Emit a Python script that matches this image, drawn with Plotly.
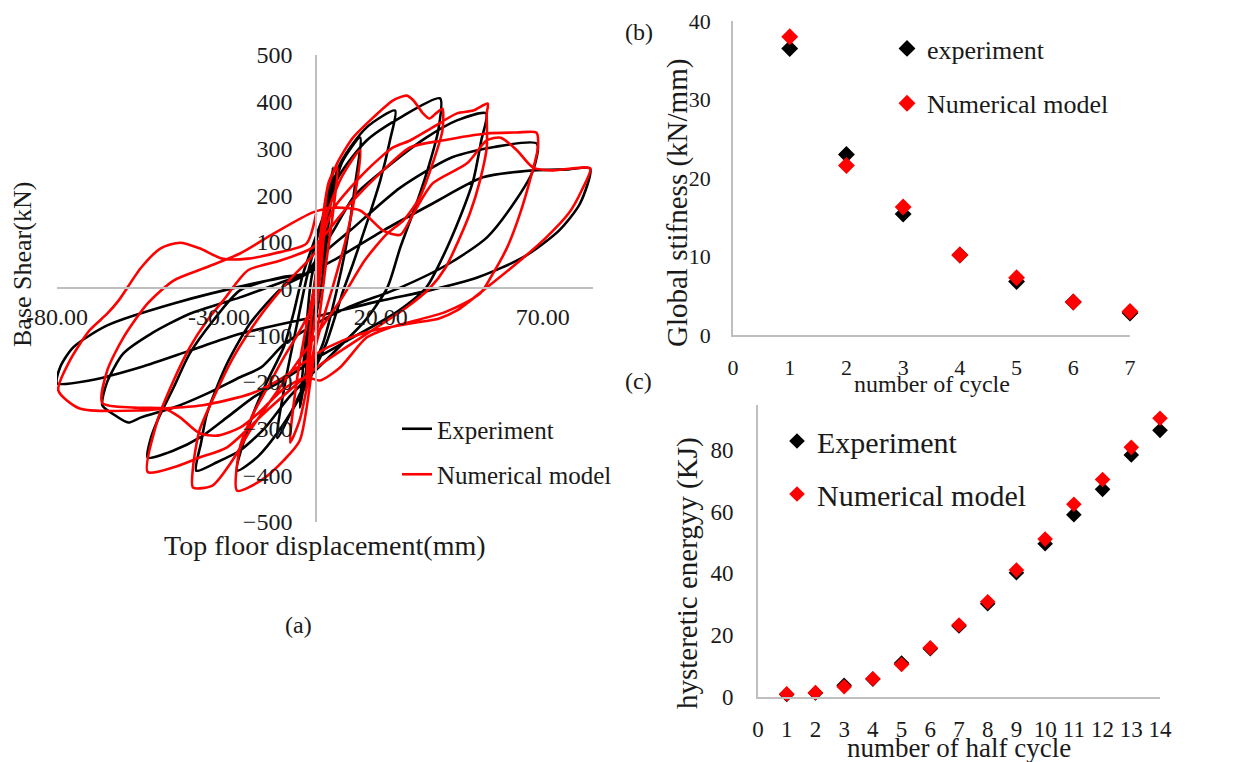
import plotly.graph_objects as go

W, H = 1249, 762

# ---------------- Panel (a): hysteresis loops (displacement mm, base shear kN) ----------------
exp_disp = [0, 1.5, 3.4, 2.5, 0.5, -1.5, -3.2, -2.2, -0.5,
            2.5, 5.2, 4, 1.5, -2, -5, -3.5, -1.5,
            3.5, 8, 13.6, 12, 9.5, 6.5, 2, -6, -12, -9.5, -6, -3,
            0, 7.4, 15.6, 24.4, 22.8, 19.8, 15.6, 11.4, 8.4, 3, -4, -11, -18, -24.4, -19.4, -15, -10, -7, -4,
            2, 7, 15.6, 26, 38.3, 37.7, 35, 31, 26, 22, 15, 5, -8, -16, -23.5, -30.6, -37, -35.5, -33.7, -27.5, -20.4, -10, -3,
            5, 12, 20.7, 34, 43.5, 52.5, 51, 48.5, 44.4, 39, 34, 25, 10, 0, -10, -19.4, -27.5, -35.8, -44, -52, -51, -49, -44, -39, -31.8, -23.5, -10, -3,
            3, 10.5, 26, 42, 55, 68.2, 67, 61, 52.7, 41, 26, 10, 0, -10, -17, -23.5, -33.7, -44, -54, -58, -62, -66, -64.5, -59.5, -51, -39, -23.5, -10, -3,
            5.3, 20.7, 36, 51.5, 67, 78, 84.6, 81.5, 75, 64, 50, 35, 20, 0, -23.5, -39, -54, -70, -80, -79, -75, -64.5, -44, -19, -3]
exp_shear = [0, 80, 173, 90, 0, -90, -170, -80, 10,
             150, 259, 150, 0, -130, -255, -130, 20,
             160, 270, 323, 220, 100, 0, -120, -240, -320, -200, -80, 20,
             100, 267, 345, 381, 317, 231, 139, 53, -4, -120, -220, -300, -360, -390, -268, -197, -126, -54, 32,
             150, 240, 317, 366, 407, 338, 267, 182, 88, 2, -70, -140, -230, -300, -347, -372, -390, -330, -268, -161, -75, 5, 32,
             120, 200, 253, 323, 360, 375, 317, 231, 152, 66, 2, -50, -110, -150, -195, -233, -276, -319, -347, -362, -320, -283, -212, -139, -69, -4, 25, 32,
             80, 124, 216, 281, 303, 310, 253, 182, 109, 53, 2, -40, -75, -120, -169, -190, -225, -255, -276, -287, -272, -250, -200, -139, -97, -54, -19, 15, 32,
             60, 124, 182, 238, 253, 255, 257, 182, 124, 67, 24, -4, -26, -60, -97, -133, -168, -197, -203, -168, -126, -79, -32, 11, 32]

num_disp = [0, 1.5, 3, 2, 0.5, -1.5, -3, -2, -0.5,
            2, 4, 6.5, 5, 3, 1, -2, -5, -8, -6, -3, 0,
            3, 8, 13.6, 12, 9, 5, 0, -5, -10, -17, -24.4, -23.5, -19.4, -15, -10, -5, 0,
            2, 3.4, 6.5, 11.4, 17.6, 23.8, 28, 30, 33, 35, 37, 39, 39, 36, 32, 27, 22, 15, 8, 0, -10, -20, -26, -32, -38,
            -38, -36, -30.6, -25.6, -20.4, -16, -8, 0,
            5.3, 15.6, 23.8, 29, 36, 43.5, 48.5, 53, 52.7, 52.7, 50.6, 47.5, 44, 40, 35, 28, 15, 0, -15, -27.5, -36, -44, -52,
            -49, -44, -39, -33.7, -28.7, -21, -11, -1,
            10.5, 20.7, 29, 39, 52.7, 62, 68, 68.5, 66, 63, 59, 54.6, 50.6, 40, 23, 15.6, 7.4, 1.2, -3, -10, -18, -23.5, -30.6, -36, -42, -47, -56, -66,
            -64.5, -59.5, -52, -44, -34, -23.5, -13, -1,
            5.3, 13.6, 20.7, 26, 30, 36, 46.6, 52.7, 57, 62, 67, 73, 84.6, 82, 78, 71, 63, 52.7, 43.5, 38, 29, 17.6, 8.3, 0, -10, -20, -35, -47, -54, -73, -79.6,
            -76, -70, -64.5, -61, -54, -48, -42, -36, -29, -21, -13, -3, 0]
num_shear = [0, 100, 190, 80, -20, -120, -200, -100, 0,
             150, 230, 259, 150, 50, -60, -180, -280, -330, -200, -80, 20,
             150, 240, 296, 200, 100, 0, -120, -325, -368, -411, -433, -340, -268, -212, -148, -90, -20,
             100, 210, 268, 323, 366, 403, 413, 403, 375, 364, 375, 385, 338, 268, 195, 146, 118, 60, -20, -100, -200, -300, -370, -422, -426,
             -383, -304, -218, -148, -90, -47, 20, 80,
             170, 253, 302, 317, 345, 375, 381, 396, 375, 302, 231, 161, 103, 45, 0, -40, -100, -170, -260, -340, -362, -383, -393,
             -283, -197, -126, -69, -26, 39, 60, 88,
             182, 253, 302, 317, 332, 334, 334, 302, 231, 161, 88, 32, -11, -50, -83, -105, -169, -197, -190, -215, -268, -298, -315, -310, -276, -257, -255, -245,
             -176, -105, -32, 17, 45, 75, 118, 163,
             173, 167, 124, 115, 160, 225, 268, 317, 323, 296, 259, 253, 257, 210, 161, 109, 60, 2, -47, -64, -75, -90, -111, -140, -190, -225, -250, -257, -261, -257, -218,
             -154, -90, -54, -26, 45, 86, 98, 86, 64, 64, 75, 96, 160]

disp_ticks = [-80, -30, 20, 70]
disp_ticklabels = ["-80.00", "-30.00", "20.00", "70.00"]
shear_ticks = [-500, -400, -300, -200, -100, 0, 100, 200, 300, 400, 500]

# ---------------- Panel (b): global stiffness ----------------
cycles = [1, 2, 3, 4, 5, 6, 7]
exp_stiffness = [36.5, 23.0, 15.4, 10.2, 6.8, 4.2, 2.8]
num_stiffness = [38.0, 21.6, 16.3, 10.2, 7.3, 4.2, 3.0]

# ---------------- Panel (c): hysteretic energy ----------------
half_cycles = list(range(1, 15))
exp_energy = [0.8, 1.3, 3.8, 5.8, 11.0, 15.6, 23.0, 30.2, 40.2, 49.6, 59.0, 67.2, 78.3, 86.3]
num_energy = [1.0, 1.4, 3.3, 5.9, 10.5, 15.9, 23.3, 30.8, 41.1, 51.1, 62.4, 70.4, 80.8, 90.2]

FONT = "Liberation Serif"
TXT = "#1a1a1a"
GRID = "#bfbfbf"
RED = "#ff0000"


def px(x):
    return x / W


def py(y):
    return 1 - y / H


fig = go.Figure()

fig.add_trace(go.Scatter(x=exp_disp, y=exp_shear, mode="lines", name="Experiment",
                         line=dict(color="black", width=2.6, shape="spline", smoothing=0.7),
                         xaxis="x", yaxis="y", legend="legend", legendgroup="a1"))
fig.add_trace(go.Scatter(x=num_disp, y=num_shear, mode="lines", name="Numerical model",
                         line=dict(color=RED, width=2.6, shape="spline", smoothing=0.7),
                         xaxis="x", yaxis="y", legend="legend", legendgroup="a2"))

fig.add_trace(go.Scatter(x=cycles, y=exp_stiffness, mode="markers", name="experiment",
                         marker=dict(symbol="diamond", size=13, color="black"),
                         xaxis="x2", yaxis="y2", legend="legend2", legendgroup="b1", cliponaxis=False))
fig.add_trace(go.Scatter(x=cycles, y=num_stiffness, mode="markers", name="Numerical model",
                         marker=dict(symbol="diamond", size=13, color=RED),
                         xaxis="x2", yaxis="y2", legend="legend2", legendgroup="b2", cliponaxis=False))

fig.add_trace(go.Scatter(x=half_cycles, y=exp_energy, mode="markers", name="Experiment",
                         marker=dict(symbol="diamond", size=12, color="black"),
                         xaxis="x3", yaxis="y3", legend="legend3", legendgroup="c1", cliponaxis=False))
fig.add_trace(go.Scatter(x=half_cycles, y=num_energy, mode="markers", name="Numerical model",
                         marker=dict(symbol="diamond", size=12, color=RED),
                         xaxis="x3", yaxis="y3", legend="legend3", legendgroup="c2", cliponaxis=False))

axis_common = dict(showgrid=False, zeroline=False, showline=True, linecolor=GRID, linewidth=1.6,
                   ticks="", color=TXT, automargin=False)

fig.update_layout(
    width=W, height=H, margin=dict(l=0, r=0, t=0, b=0, autoexpand=False),
    paper_bgcolor="white", plot_bgcolor="rgba(0,0,0,0)",
    font=dict(family=FONT, color=TXT, size=22),
    xaxis=dict(domain=[px(57), px(593)], range=[-80, 85.5], anchor="free", position=py(288),
               tickvals=disp_ticks, ticktext=disp_ticklabels, tickfont=dict(size=24),
               ticklabelstandoff=7, **axis_common),
    yaxis=dict(domain=[py(522), py(55)], range=[-500, 500], anchor="free", position=px(316),
               tickvals=shear_ticks, tickfont=dict(size=24), ticklabelstandoff=18, **axis_common),
    xaxis2=dict(domain=[px(733), px(1130)], range=[0, 7], anchor="y2", dtick=1,
                tickfont=dict(size=22), ticklabelstandoff=12, **axis_common),
    yaxis2=dict(domain=[py(335), py(21)], range=[0, 40], anchor="x2", dtick=10,
                tickfont=dict(size=22), ticklabelstandoff=16, **axis_common),
    xaxis3=dict(domain=[px(758), px(1160)], range=[0, 14], anchor="y3", dtick=1,
                tickfont=dict(size=23), ticklabelstandoff=11, **axis_common),
    yaxis3=dict(domain=[py(697), py(405)], range=[0, 94.5], anchor="x3", tickvals=[0, 20, 40, 60, 80],
                tickfont=dict(size=23), ticklabelstandoff=18, **axis_common),
    legend=dict(x=px(397), y=py(406), xanchor="left", yanchor="top", bgcolor="rgba(0,0,0,0)",
                font=dict(size=25, family=FONT, color=TXT), tracegroupgap=10, traceorder="grouped"),
    legend2=dict(x=px(887), y=py(25), xanchor="left", yanchor="top", bgcolor="rgba(0,0,0,0)",
                 font=dict(size=26, family=FONT, color=TXT), tracegroupgap=18, traceorder="grouped"),
    legend3=dict(x=px(777), y=py(415), xanchor="left", yanchor="top", bgcolor="rgba(0,0,0,0)",
                 font=dict(size=30, family=FONT, color=TXT), tracegroupgap=11, traceorder="grouped"),
)

annots = [
    dict(text="Base Shear(kN)", x=px(22), y=py(265), textangle=-90, size=26),
    dict(text="Top floor displacement(mm)", x=px(325), y=py(545), size=28),
    dict(text="(a)", x=px(298), y=py(625), size=24),
    dict(text="(b)", x=px(639), y=py(32), size=24),
    dict(text="(c)", x=px(638), y=py(381), size=24),
    dict(text="Global stifness (kN/mm)", x=px(677), y=py(203), textangle=-90, size=29),
    dict(text="number of cycle", x=px(932), y=py(384), size=24),
    dict(text="hysteretic energyy (KJ)", x=px(687), y=py(573), textangle=-90, size=29),
    dict(text="number of half cycle", x=px(959), y=py(748), size=27),
]
for a in annots:
    fig.add_annotation(text=a["text"], x=a["x"], y=a["y"], xref="paper", yref="paper",
                       xanchor="center", yanchor="middle", showarrow=False,
                       textangle=a.get("textangle", 0),
                       font=dict(size=a["size"], family=FONT, color=TXT))

fig.write_html("out.html")
